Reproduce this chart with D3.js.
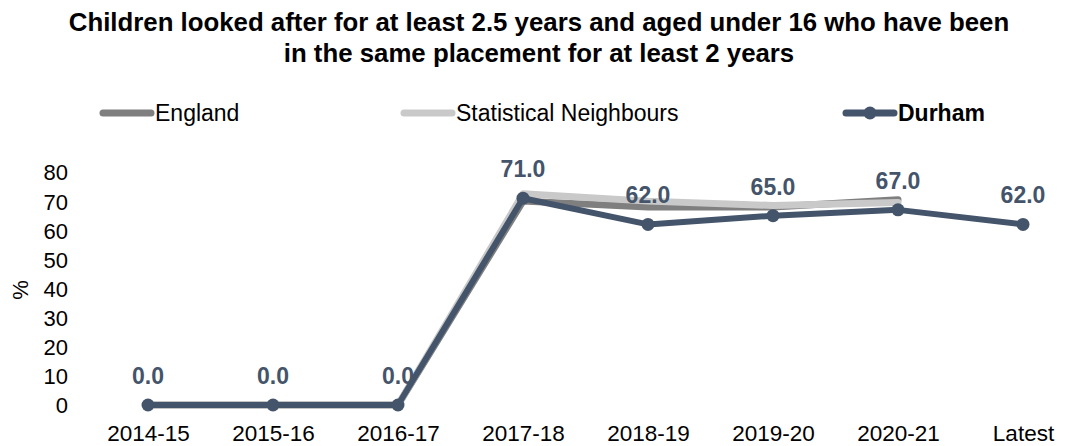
<!DOCTYPE html>
<html><head><meta charset="utf-8">
<script src="https://cdn.jsdelivr.net/npm/d3@7"></script>
<style>body{margin:0;background:#fff}svg{display:block;font-family:"Liberation Sans",Arial,sans-serif}</style>
</head><body><svg id="c" width="1069" height="446"></svg>
<script>
const categories = ["2014-15","2015-16","2016-17","2017-18","2018-19","2019-20","2020-21","Latest"];
const england = [0,0,0,70,68,68,70.5];
const statNeighbours = [0,0,0,72.5,70,68.5,69.5];
const durham = [0,0,0,71,62,65,67,62];
const yTicks = [0,10,20,30,40,50,60,70,80];
const titleLines = ["Children looked after for at least 2.5 years and aged under 16 who have been","in the same placement for at least 2 years"];

const svg = d3.select("#c");
const x = d3.scalePoint().domain(categories).range([148,1023]);
const y = d3.scaleLinear().domain([0,80]).range([405,172]);

// title
svg.append("g").selectAll("text").data(titleLines).join("text")
  .attr("x",539).attr("y",(d,i)=>31+i*31).attr("text-anchor","middle")
  .attr("font-size",25.8).attr("font-weight","bold").attr("fill","#000").text(d=>d);

// y axis
const yAxis = d3.axisLeft(y).tickValues(yTicks).tickSize(0).tickPadding(0);
const ya = svg.append("g").attr("transform","translate(68,0)").call(yAxis);
ya.select(".domain").remove();
ya.selectAll("text").attr("font-size",22).attr("fill","#000").attr("font-family","Liberation Sans, Arial, sans-serif").attr("dy","0.36em");
svg.append("text").attr("transform","translate(28,290) rotate(-90)").attr("text-anchor","middle")
  .attr("font-size",22).attr("fill","#000").text("%");

// x axis
const xAxis = d3.axisBottom(x).tickSize(0).tickPadding(0);
const xa = svg.append("g").attr("transform","translate(0,424)").call(xAxis);
xa.select(".domain").remove();
xa.selectAll("text").attr("font-size",22.5).attr("fill","#000").attr("font-family","Liberation Sans, Arial, sans-serif").attr("dy","0.75em");

const line = d3.line().x((d,i)=>x(categories[i])).y(d=>y(d));
svg.append("path").datum(england).attr("d",line).attr("fill","none").attr("stroke","#7F7F7F")
  .attr("stroke-width",7).attr("stroke-linecap","round").attr("stroke-linejoin","round");
svg.append("path").datum(statNeighbours).attr("d",line).attr("fill","none").attr("stroke","#C9C9C9")
  .attr("stroke-width",7).attr("stroke-linecap","round").attr("stroke-linejoin","round");
svg.append("path").datum(durham).attr("d",line).attr("fill","none").attr("stroke","#44546A")
  .attr("stroke-width",6).attr("stroke-linejoin","round");
svg.append("g").selectAll("circle").data(durham).join("circle")
  .attr("cx",(d,i)=>x(categories[i])).attr("cy",d=>y(d)).attr("r",6.5).attr("fill","#44546A");
svg.append("g").selectAll("text").data(durham).join("text")
  .attr("x",(d,i)=>x(categories[i])).attr("y",d=>y(d)-21).attr("text-anchor","middle")
  .attr("font-size",23).attr("font-weight","bold").attr("fill","#44546A").text(d=>d.toFixed(1));

// legend
const legend = [
  {name:"England", color:"#7F7F7F", x1:103, bold:false, marker:false},
  {name:"Statistical Neighbours", color:"#C9C9C9", x1:404, bold:false, marker:false},
  {name:"Durham", color:"#44546A", x1:846, bold:true, marker:true}
];
const lg = svg.append("g").selectAll("g").data(legend).join("g");
lg.append("line").attr("x1",d=>d.x1).attr("x2",d=>d.x1+48).attr("y1",113).attr("y2",113)
  .attr("stroke",d=>d.color).attr("stroke-width",7).attr("stroke-linecap","round");
lg.filter(d=>d.marker).append("circle").attr("cx",d=>d.x1+24).attr("cy",113).attr("r",6.5).attr("fill",d=>d.color);
lg.append("text").attr("x",d=>d.x1+52).attr("y",121).attr("font-size",23)
  .attr("font-weight",d=>d.bold?"bold":"normal").attr("fill","#000").text(d=>d.name);
</script></body></html>
